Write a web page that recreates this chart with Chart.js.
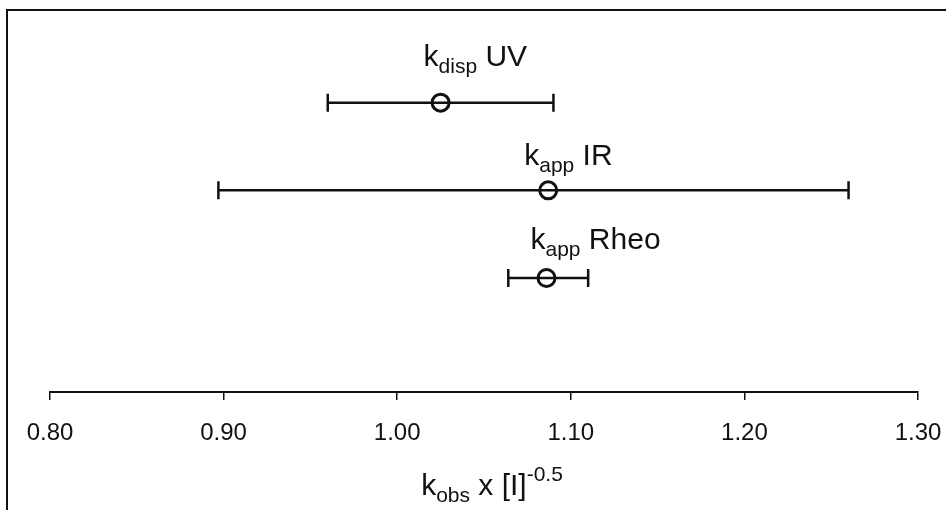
<!DOCTYPE html>
<html>
<head>
<meta charset="utf-8">
<script src="https://cdn.jsdelivr.net/npm/chart.js@4"></script>
<style>
    html, body { margin: 0; padding: 0; background: #fff; }
    #wrap { position: relative; width: 946px; height: 510px; }
    #frame {
        position: absolute; left: 6px; top: 9px; right: 0; bottom: 0;
        border-top: 2px solid #111; border-left: 2px solid #111;
        pointer-events: none;
    }
    canvas { position: absolute; left: 0; top: 0; }
</style>
</head>
<body>
<div id="wrap">
    <canvas id="rateChart" width="946" height="510"></canvas>
    <div id="frame"></div>
</div>
<script>
// Methods and their rate constants (k x [I]^-0.5)
const methods = ['UV', 'IR', 'Rheo'];
const subscripts = ['disp', 'app', 'app'];
const kValues = [1.025, 1.087, 1.086];
const kLow = [0.960, 0.897, 1.064];
const kHigh = [1.090, 1.260, 1.110];
const rows = [3, 2, 1];
const xTicks = [0.80, 0.90, 1.00, 1.10, 1.20, 1.30];

const INK = '#111';
const FONT = '"Liberation Sans", Arial, Helvetica, sans-serif';

// label placement relative to each point
const labelDx = [-17, -24, -16];
const labelDy = [-37, -25, -29];

// draw "k" + subscript + rest (+ superscript), returns end x
function drawSubText(ctx, x, y, main, sub, rest, sup) {
    ctx.font = '30px ' + FONT;
    ctx.fillText(main, x, y);
    x += ctx.measureText(main).width;
    ctx.font = '21px ' + FONT;
    ctx.fillText(sub, x, y + 7);
    x += ctx.measureText(sub).width;
    ctx.font = '30px ' + FONT;
    ctx.fillText(rest, x, y);
    x += ctx.measureText(rest).width;
    if (sup) {
        ctx.font = '21px ' + FONT;
        ctx.fillText(sup, x, y - 14);
        x += ctx.measureText(sup).width;
    }
    return x;
}

function measureSubText(ctx, main, sub, rest, sup) {
    ctx.font = '30px ' + FONT;
    let w = ctx.measureText(main + rest).width;
    ctx.font = '21px ' + FONT;
    w += ctx.measureText(sub + (sup || '')).width;
    return w;
}

const errorBars = {
    id: 'errorBars',
    beforeDatasetsDraw(chart) {
        const { ctx, scales: { x, y } } = chart;
        ctx.save();
        ctx.strokeStyle = INK;
        ctx.lineWidth = 2.5;
        rows.forEach((r, i) => {
            const py = y.getPixelForValue(r);
            const x0 = x.getPixelForValue(kLow[i]);
            const x1 = x.getPixelForValue(kHigh[i]);
            ctx.beginPath();
            ctx.moveTo(x0, py); ctx.lineTo(x1, py);
            ctx.moveTo(x0, py - 9); ctx.lineTo(x0, py + 9);
            ctx.moveTo(x1, py - 9); ctx.lineTo(x1, py + 9);
            ctx.stroke();
        });
        ctx.restore();
    }
};

const methodLabels = {
    id: 'methodLabels',
    afterDatasetsDraw(chart) {
        const { ctx, scales: { x, y } } = chart;
        ctx.save();
        ctx.fillStyle = INK;
        ctx.textBaseline = 'alphabetic';
        ctx.textAlign = 'left';
        rows.forEach((r, i) => {
            const px = x.getPixelForValue(kValues[i]) + labelDx[i];
            const py = y.getPixelForValue(r) + labelDy[i];
            drawSubText(ctx, px, py, 'k', subscripts[i], ' ' + methods[i]);
        });
        // axis title
        const cx = (chart.chartArea.left + chart.chartArea.right) / 2 + 8;
        const w = measureSubText(ctx, 'k', 'obs', ' x [I]', '-0.5');
        drawSubText(ctx, cx - w / 2, 495, 'k', 'obs', ' x [I]', '-0.5');
        ctx.restore();
    }
};

new Chart(document.getElementById('rateChart').getContext('2d'), {
    type: 'scatter',
    data: {
        datasets: [{
            data: rows.map((r, i) => ({ x: kValues[i], y: r })),
            pointRadius: 8.5,
            pointBorderWidth: 3,
            pointBorderColor: INK,
            pointBackgroundColor: 'rgba(0,0,0,0)',
            showLine: false
        }]
    },
    options: {
        responsive: false,
        animation: false,
        layout: { padding: { left: 50, right: 28, top: 15, bottom: 0 } },
        plugins: {
            legend: { display: false },
            tooltip: { enabled: false }
        },
        scales: {
            x: {
                type: 'linear',
                min: 0.8,
                max: 1.3,
                afterBuildTicks: s => { s.ticks = xTicks.map(v => ({ value: v })); },
                afterFit: s => {
                    s.height = 118;
                    s.paddingLeft = 0;
                    s.paddingRight = 0;
                },
                ticks: {
                    color: INK,
                    font: { family: FONT, size: 24 },
                    padding: 19,
                    maxRotation: 0,
                    autoSkip: false,
                    callback: v => v.toFixed(2)
                },
                grid: {
                    display: true,
                    drawOnChartArea: false,
                    drawTicks: true,
                    tickLength: 8,
                    color: INK,
                    lineWidth: 1.5
                },
                border: { display: true, color: INK, width: 2 }
            },
            y: {
                display: false,
                min: -0.3,
                max: 4
            }
        }
    },
    plugins: [errorBars, methodLabels]
});
</script>
</body>
</html>
